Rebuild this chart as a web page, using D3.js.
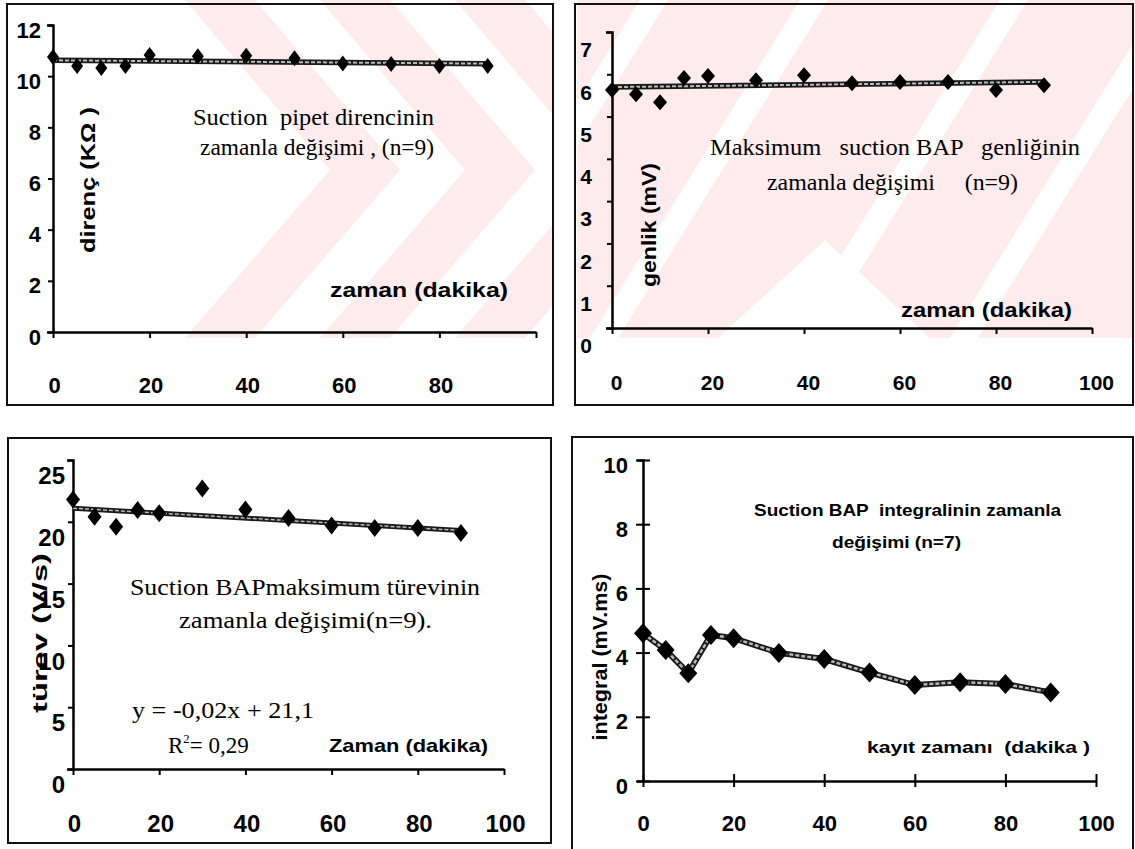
<!DOCTYPE html>
<head>
<meta charset="utf-8">
<title>Suction BAP</title>
<style>
  body { margin: 0; background: #fff; }
  svg { display: block; }
  text { font-family: "Liberation Sans", Arial, sans-serif; }
  .serif { font-family: "Liberation Serif", "Times New Roman", serif; }
</style>
</head>
<body>
<div id="chart"></div>

<script src="https://cdn.jsdelivr.net/npm/d3@7"></script>
<script>
// data
const times = [0, 5, 10, 15, 20, 30, 40, 50, 60, 70, 80, 90];
const resistance = [10.75, 10.4, 10.32, 10.4, 10.83, 10.78, 10.8, 10.7, 10.5, 10.48, 10.4, 10.4];
const amplitude = [5.63, 5.53, 5.34, 5.91, 5.96, 5.86, 5.98, 5.79, 5.82, 5.82, 5.63, 5.74];
const derivative = [21.8, 20.4, 19.6, 20.95, 20.7, 22.7, 21.0, 20.3, 19.7, 19.5, 19.5, 19.1];
const integral = [4.6, 4.08, 3.36, 4.55, 4.45, 3.99, 3.8, 3.38, 2.99, 3.08, 3.02, 2.76];
const xTicks = [0, 20, 40, 60, 80, 100];
const fitSlope = -0.02, fitIntercept = 21.1;   // printed on panel 3

const svg = d3.select("#chart").append("svg")
    .attr("width", 1135).attr("height", 849);

svg.append("rect").attr("width", 1135).attr("height", 849).attr("fill", "#fff");

//
// faint pink watermark behind the upper charts
//
const PINK = "#fdebed";
const defs = svg.append("defs");
defs.append("clipPath").attr("id", "clipL").append("rect")
    .attr("x", 9).attr("y", 0).attr("width", 543).attr("height", 338);
defs.append("clipPath").attr("id", "clipR").append("rect")
    .attr("x", 577).attr("y", 0).attr("width", 556).attr("height", 338);

const chevron = (x0, w) => [[x0, 0], [x0 + w, 0], [x0 + w + 145, 170], [x0 + w, 338], [x0, 338], [x0 + 145, 170]];
const wmL = svg.append("g").attr("fill", PINK).attr("clip-path", "url(#clipL)");
[185, 320, 455].forEach(x0 => {
    wmL.append("polygon").attr("points", chevron(x0, 70).join(" "));
});

const wmR = svg.append("g").attr("clip-path", "url(#clipR)");
wmR.append("rect").attr("x", 577).attr("y", 0).attr("width", 556).attr("height", 338).attr("fill", PINK);
[640, 800, 1000, 1160].forEach(x0 => {
    wmR.append("polygon").attr("fill", "#fff")
        .attr("points", [[x0, 0], [x0 + 28, 0], [x0 + 28 - 210, 338], [x0 - 210, 338]].join(" "));
});
wmR.append("polygon").attr("fill", "#fff")
    .attr("points", [[825, 240], [930, 338], [718, 338]].join(" "));

//
// panel boxes
//
const boxes = [[7, 4, 546, 401], [575, 4, 558, 401], [8, 438, 543, 405], [572, 437, 561, 420]];
boxes.forEach(b => {
    svg.append("rect").attr("x", b[0]).attr("y", b[1]).attr("width", b[2]).attr("height", b[3])
        .attr("fill", "none").attr("stroke", "#111").attr("stroke-width", 2);
});

// custom diamond marker
function diamond(rx, ry) {
    return {
        draw(ctx) {
            ctx.moveTo(0, -ry); ctx.lineTo(rx, 0); ctx.lineTo(0, ry); ctx.lineTo(-rx, 0); ctx.closePath();
        }
    };
}

function linFit(xs, ys) {
    const mx = d3.mean(xs), my = d3.mean(ys);
    const sxy = d3.sum(xs, (v, i) => (v - mx) * (ys[i] - my));
    const sxx = d3.sum(xs, v => (v - mx) * (v - mx));
    const b = sxy / sxx;
    return [b, my - b * mx];
}

//
// one scatter panel
//
function drawPanel(p) {
    const x = d3.scaleLinear().domain([0, 100]).range([p.x0, p.x1]);
    const y = d3.scaleLinear().domain([0, p.ymax]).range([p.y0, p.y1]);
    const g = svg.append("g");

    // x axis
    const xa = g.append("g").attr("transform", `translate(0,${p.y0})`)
        .call(d3.axisBottom(x).tickValues(xTicks).tickSize(6).tickSizeOuter(0)
            .tickPadding(p.xpad).tickFormat(d => p.xlabels.includes(d) ? d : ""));
    // y axis
    const ya = g.append("g").attr("transform", `translate(${p.x0},0)`)
        .call(d3.axisLeft(y).tickValues(p.yticks).tickSize(p.cross ? 7 : 5).tickSizeOuter(6)
            .tickPadding(p.ypad).tickFormat(d3.format("d")));

    [xa, ya].forEach(a => {
        a.select(".domain").attr("stroke", "#000").attr("stroke-width", 2.5);
        a.selectAll(".tick line").attr("stroke", "#000").attr("stroke-width", 2);
        a.selectAll(".tick text").attr("fill", "#000").attr("font-weight", "bold")
            .attr("font-size", p.fs);
    });
    ya.selectAll(".tick text").attr("transform", `translate(0,${p.ydy})`);
    xa.selectAll(".tick text").attr("transform", `translate(${p.xdx},0)`);
    if (p.cross) {
        xa.selectAll(".tick line").attr("y1", -7);
        ya.selectAll(".tick line").attr("x1", 7);
    }

    // line (trend or connected)
    let lineData;
    if (p.connect) {
        lineData = times.map((t, i) => [t, p.values[i]]);
    } else {
        const [b, a] = p.fit || linFit(times, p.values);
        lineData = [0, 90].map(t => [t, a + b * t]);
    }
    const line = d3.line().x(d => x(d[0])).y(d => y(d[1]));
    g.append("path").datum(lineData).attr("d", line)
        .attr("fill", "none").attr("stroke", "#1a1a1a").attr("stroke-width", p.lw);
    g.append("path").datum(lineData).attr("d", line)
        .attr("fill", "none").attr("stroke", "#b8b8b8").attr("stroke-width", p.lw - 3.5)
        .attr("stroke-dasharray", "4,2");

    // markers
    const sym = d3.symbol().type(diamond(p.rx, p.ry));
    g.selectAll(".pt").data(p.values).join("path")
        .attr("transform", (d, i) => `translate(${x(times[i])},${y(d)})`)
        .attr("d", sym).attr("fill", "#000");

    // y title
    g.append("text")
        .attr("transform", `translate(${p.yt[0]},${p.yt[1]}) rotate(-90)`)
        .attr("text-anchor", "middle").attr("dominant-baseline", "central")
        .attr("font-weight", "bold").attr("font-size", 20)
        .attr("textLength", p.yt[2]).attr("lengthAdjust", "spacingAndGlyphs")
        .text(p.ytitle);

    // notes
    p.notes.forEach(n => {
        const t = g.append("text").attr("x", n.x).attr("y", n.y)
            .attr("font-size", n.fs).attr("font-weight", n.bold ? "bold" : "normal")
            .attr("class", n.serif ? "serif" : null)
            .style("white-space", "pre");
        if (n.sup) {
            t.append("tspan").text(n.text[0]);
            t.append("tspan").attr("dy", -10).attr("font-size", n.fs * 0.55).text(n.sup);
            t.append("tspan").attr("dy", 10).text(n.text[1]);
        } else {
            t.attr("textLength", n.w).attr("lengthAdjust", "spacingAndGlyphs").text(n.text);
        }
    });
}

drawPanel({
    values: resistance, x0: 53, x1: 536, y0: 332, y1: 25, ymax: 12,
    yticks: [0, 2, 4, 6, 8, 10, 12], xlabels: [0, 20, 40, 60, 80],
    fs: 22, xpad: 39, ypad: 7, ydy: 5, xdx: 1, rx: 6, ry: 8, lw: 5.5,
    ytitle: "direnç (KΩ )", yt: [88, 180, 146],
    notes: [
        { text: "Suction  pipet direncinin", x: 193, y: 125, fs: 23, serif: true, w: 241 },
        { text: "zamanla değişimi , (n=9)", x: 200, y: 155, fs: 23, serif: true, w: 234 },
        { text: "zaman (dakika)", x: 330, y: 297, fs: 20, bold: true, w: 178 }
    ]
});

drawPanel({
    values: amplitude, x0: 612, x1: 1092, y0: 328, y1: 32, ymax: 7,
    yticks: [0, 1, 2, 3, 4, 5, 6, 7], xlabels: xTicks,
    fs: 21, xpad: 41, ypad: 15, ydy: 18, xdx: 4, rx: 7, ry: 8, lw: 5.5,
    ytitle: "genlik (mV)", yt: [649, 225, 124],
    notes: [
        { text: "Maksimum   suction BAP   genliğinin", x: 710, y: 155, fs: 23, serif: true, w: 370 },
        { text: "zamanla değişimi     (n=9)", x: 767, y: 190, fs: 23, serif: true, w: 251 },
        { text: "zaman (dakika)", x: 901, y: 317, fs: 20, bold: true, w: 171 }
    ]
});

drawPanel({
    values: derivative, x0: 73, x1: 504, y0: 769, y1: 460, ymax: 25,
    yticks: [0, 5, 10, 15, 20, 25], xlabels: xTicks,
    fs: 24, xpad: 40, ypad: 3, ydy: 16, xdx: 1, rx: 7, ry: 9, lw: 5,
    fit: [fitSlope, fitIntercept],
    ytitle: "türev (V/s)", yt: [40, 633, 160],
    notes: [
        { text: "Suction BAPmaksimum türevinin", x: 130, y: 595, fs: 23, serif: true, w: 350 },
        { text: "zamanla değişimi(n=9).", x: 179, y: 628, fs: 23, serif: true, w: 253 },
        { text: "y = -0,02x + 21,1", x: 132, y: 718, fs: 23, serif: true, w: 182 },
        { text: ["R", "= 0,29"], sup: "2", x: 168, y: 753, fs: 23, serif: true, w: 93 },
        { text: "Zaman (dakika)", x: 329, y: 752, fs: 19, bold: true, w: 159 }
    ]
});

drawPanel({
    values: integral, x0: 643, x1: 1096, y0: 781, y1: 460, ymax: 10,
    yticks: [0, 2, 4, 6, 8, 10], xlabels: xTicks, cross: true, connect: true,
    fs: 22, xpad: 28, ypad: 8, ydy: 5, xdx: 0, rx: 9, ry: 10, lw: 6,
    ytitle: "integral (mV.ms)", yt: [600, 657, 167],
    notes: [
        { text: "Suction BAP  integralinin zamanla", x: 754, y: 516, fs: 17, bold: true, w: 307 },
        { text: "değişimi (n=7)", x: 832, y: 548, fs: 17, bold: true, w: 129 },
        { text: "kayıt zamanı  (dakika )", x: 867, y: 753, fs: 17, bold: true, w: 223 }
    ]
});
</script>
</body>
